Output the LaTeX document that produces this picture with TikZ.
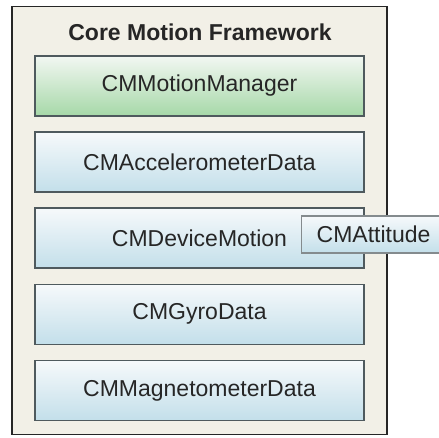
\documentclass[tikz,border=0pt]{standalone}
\usepackage{fontspec}
\setmainfont{Liberation Sans}
\usetikzlibrary{positioning}

\definecolor{framefill}{HTML}{F2F0E7}
\definecolor{boxtop}{HTML}{F6F9FB}
\definecolor{boxbottom}{HTML}{C3DFEA}
\definecolor{mgrtop}{HTML}{F2F7F2}
\definecolor{mgrbottom}{HTML}{A6D8A8}
\definecolor{boxline}{HTML}{4F5A5E}

\tikzset{
  cmbox/.style={draw=boxline, line width=1.6pt, top color=boxtop, bottom color=boxbottom,
    minimum width=329pt, minimum height=60pt, inner sep=0pt,
    font=\fontsize{23}{26}\selectfont, text=black!85},
}

\begin{document}
\begin{tikzpicture}[x=1pt,y=1pt]
\useasboundingbox (0,0) rectangle (439,-437);
\clip (0,0) rectangle (439,-437);
% framework panel
\node[draw=black!85, line width=1.5pt, fill=framefill, minimum width=375pt, minimum height=428pt, inner sep=0pt] (frame) at (199.5,-220.5) {};
\node[font=\bfseries\fontsize{23}{26}\selectfont, text=black!85] (title) at (200,-32) {Core Motion Framework};
% the classes
\node[cmbox, top color=mgrtop, bottom color=mgrbottom] (manager) at (199.5,-86) {CMMotionManager};
\node[cmbox, below=14.5pt of manager] (accel) {CMAccelerometerData};
\node[cmbox, below=14.5pt of accel] (device) {CMDeviceMotion};
\node[cmbox, below=14.5pt of device] (gyro) {CMGyroData};
\node[cmbox, below=14.5pt of gyro] (magneto) {CMMagnetometerData};
% sticks out past the right edge
\node[cmbox, draw=boxline!70, line width=1.2pt, anchor=west, minimum width=144pt, minimum height=37pt] (attitude) at (301,-234.5) {CMAttitude};
\end{tikzpicture}
\end{document}
